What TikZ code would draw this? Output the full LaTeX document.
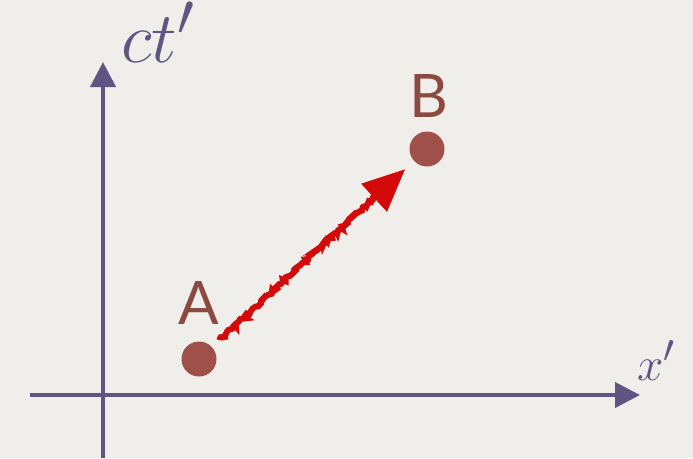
\documentclass[tikz,border=0pt]{standalone}
\usepackage{graphicx}
\usepackage{fontspec}
\usepackage{tikz}
\usetikzlibrary{arrows.meta,decorations.pathmorphing,calc}
\newfontfamily\labelfont{Lato}
\definecolor{paper}{HTML}{EFEEEA}
\definecolor{axiscol}{HTML}{5E5582}
\definecolor{dotcol}{HTML}{A0504B}
\definecolor{lblcol}{HTML}{8B4A40}
\definecolor{crayon}{HTML}{D40A0A}
\newcommand{\biglab}[2]{\scalebox{#1}{\Huge$#2$}}

\begin{document}
\begin{tikzpicture}[x=1pt, y=-1pt,
    axis/.style={draw=axiscol, line width=4pt, -{Triangle[length=25pt,width=25pt]}},
    event/.style={circle, fill=dotcol, minimum size=35pt, inner sep=0pt},
    evlabel/.style={text=lblcol, font=\labelfont\fontsize{60}{60}\selectfont},
    axlabel/.style={text=axiscol, inner sep=0pt, anchor=base west}]

  % fondo
  \fill[paper] (0,0) rectangle (693,458);
  \useasboundingbox (0,0) rectangle (693,458);

  % ejes
  \coordinate (xs) at (30,395);
  \coordinate (xe) at (640,395);
  \coordinate (ys) at (103,458);
  \coordinate (ye) at (103,62);
  \draw[axis] (xs) -- (xe);
  \draw[axis] (ys) -- (ye);
  \node[axlabel] (ctlab) at (121,62) {\biglab{2.9}{ct'}};
  \node[axlabel] (xlab) at (637,380) {\biglab{1.9}{x'}};

  % eventos
  \node[event] (A) at (199,359) {};
  \node[event] (B) at (427,149) {};
  \node[evlabel] (Alab) at (199,303) {A};
  \node[evlabel] (Blab) at (429,96) {B};

  % flecha de crayón
  \coordinate (s) at ($(A)!28pt!(B)$);
  \coordinate (t) at ($(B)!30pt!(A)$);
  \coordinate (m) at ($(B)!62pt!(A)$);
  \draw[crayon, line width=6pt,
        decorate, decoration={random steps, segment length=2pt, amplitude=1.5pt}] (s) -- (m);
  \draw[crayon, line width=1pt, -{Triangle[length=42pt,width=38pt]}] (s) -- (t);

\end{tikzpicture}
\end{document}
